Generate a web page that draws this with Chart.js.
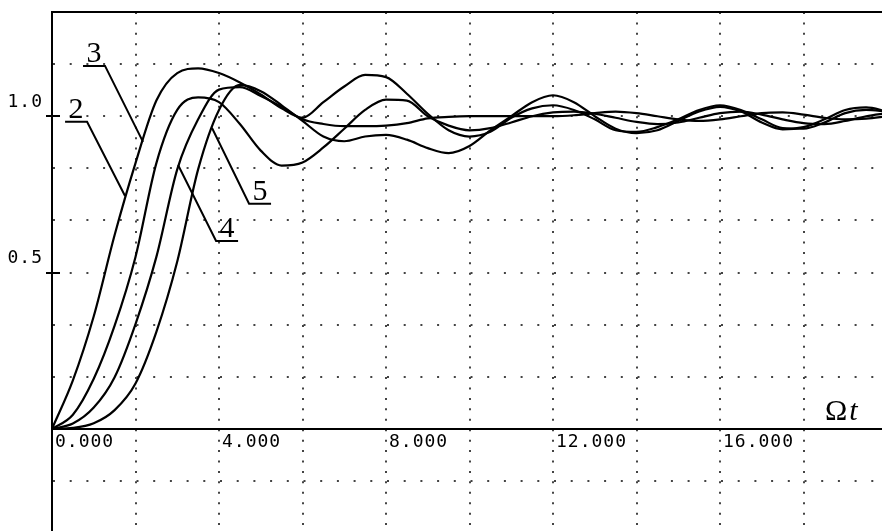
<!DOCTYPE html>
<html>
<head>
<meta charset="utf-8">
<script src="https://cdn.jsdelivr.net/npm/chart.js@4.4.1/dist/chart.umd.min.js"></script>
<style>
    html, body { margin: 0; padding: 0; background: #fff; }
    #wrap { width: 882px; height: 531px; }
</style>
</head>
<body>
<div id="wrap"><canvas id="grafico" width="882" height="531"></canvas></div>
<script>
// ---- dados (Ωt, resposta) ----
const xs = [0, 0.5, 1, 1.5, 2, 2.5, 3, 3.5, 4, 4.5,
            5, 5.5, 6, 6.5, 7, 7.5, 8, 8.5, 9, 9.5,
            10, 10.5, 11, 11.5, 12, 12.5, 13, 13.5, 14, 14.5,
            15, 15.5, 16, 16.5, 17, 17.5, 18, 18.5, 19, 19.5, 20];

// curva mais rápida (maior sobressinal)
const curve1 = [0, 0.155, 0.36, 0.62, 0.85, 1.05, 1.138, 1.153, 1.138, 1.108,
                1.07, 1.025, 0.995, 1.045, 1.095, 1.132, 1.125, 1.072, 1.008, 0.955,
                0.935, 0.95, 0.995, 1.025, 1.035, 1.02, 0.99, 0.955, 0.95, 0.965,
                0.99, 1.02, 1.035, 1.02, 0.99, 0.962, 0.96, 0.98, 1.01, 1.02, 1.015];
// segunda curva (vale profundo em ~5.7)
const curve2 = [0, 0.045, 0.16, 0.33, 0.55, 0.85, 1.02, 1.06, 1.045, 0.975,
                0.89, 0.842, 0.852, 0.9, 0.96, 1.02, 1.053, 1.05, 1.0, 0.97,
                0.955, 0.962, 0.98, 1.0, 1.012, 1.015, 1.008, 0.995, 0.982, 0.975,
                0.98, 0.995, 1.01, 1.015, 1.005, 0.99, 0.978, 0.975, 0.985, 1.0, 1.01];
// terceira curva (assenta em 1.0)
const curve3 = [0, 0.017, 0.068, 0.165, 0.335, 0.55, 0.83, 0.99, 1.085, 1.093,
                1.065, 1.03, 0.99, 0.975, 0.968, 0.968, 0.97, 0.978, 0.993, 0.998,
                1.0, 1.0, 1.0, 1.0, 1.0, 1.003, 1.01, 1.015, 1.01, 1.0,
                0.99, 0.985, 0.99, 1.0, 1.01, 1.012, 1.005, 0.995, 0.99, 0.992, 1.0];
// quarta curva (mais lenta)
const curve4 = [0, 0.003, 0.018, 0.06, 0.145, 0.31, 0.535, 0.83, 1.02, 1.1,
                1.08, 1.035, 0.985, 0.935, 0.92, 0.935, 0.94, 0.925, 0.898, 0.882,
                0.905, 0.955, 1.0, 1.045, 1.067, 1.045, 1.0, 0.96, 0.946, 0.955,
                0.985, 1.015, 1.03, 1.015, 0.98, 0.958, 0.965, 0.99, 1.02, 1.028, 1.015];

// grade e rótulos dos eixos
const xGrid = [0, 2, 4, 6, 8, 10, 12, 14, 16, 18];
const xTickValues = [0, 4, 8, 12, 16];
const xTickLabels = ['0.000', '4.000', '8.000', '12.000', '16.000'];
const yGrid = [-1/6, 0, 1/6, 2/6, 3/6, 4/6, 5/6, 1, 7/6, 8/6];
const yTickValues = [0.5, 1.0];
const yTickLabels = ['0.5', '1.0'];

// números das curvas com linha de chamada (ponta do sublinhado -> ponto na curva)
const curveLabels = ['3', '2', '4', '5'];
const labelAnchorX = [1.27, 0.84, 3.93, 4.72];
const labelAnchorY = [1.161, 0.982, 0.601, 0.72];
const labelTargetX = [2.18, 1.75, 3.02, 3.83];
const labelTargetY = [0.918, 0.745, 0.844, 0.963];

const pts = arr => xs.map((x, i) => ({ x: x, y: arr[i] }));
const findLabel = (values, labels, v) => {
    const i = values.findIndex(t => Math.abs(t - v) < 1e-6);
    return i >= 0 ? labels[i] : '';
};

const tickFont = { family: '"DejaVu Sans Mono", monospace', size: 18 };

// zera as folgas que o Chart.js reserva para os rótulos
const semFolga = s => {
    s.paddingTop = 0;
    s.paddingBottom = 0;
    s.paddingLeft = 0;
    s.paddingRight = 0;
};

// ============================
// PLUGIN: moldura, marcas, Ωt e números das curvas
// ============================
const overlay = {
    id: 'overlay',
    beforeDraw(chart) {
        chart.ctx.letterSpacing = '1px';
    },
    afterDraw(chart) {
        const { ctx, chartArea, scales: { x, y } } = chart;
        ctx.save();
        ctx.letterSpacing = '0px';
        ctx.strokeStyle = '#000';
        ctx.fillStyle = '#000';
        ctx.lineWidth = 2;

        // linha superior da moldura
        ctx.beginPath();
        ctx.moveTo(chartArea.left, chartArea.top);
        ctx.lineTo(chartArea.right, chartArea.top);
        ctx.stroke();

        // marcas curtas em 0.5 e 1.0
        yTickValues.forEach(v => {
            const py = Math.round(y.getPixelForValue(v));
            ctx.beginPath();
            ctx.moveTo(chartArea.left - 6, py);
            ctx.lineTo(chartArea.left + 8, py);
            ctx.stroke();
        });

        // título do eixo: Ωt
        const ox = chartArea.right - 57;
        const oy = y.getPixelForValue(0) - 9;
        ctx.textAlign = 'left';
        ctx.textBaseline = 'alphabetic';
        ctx.font = '30px "Liberation Serif", serif';
        ctx.fillText('Ω', ox, oy);
        const w = ctx.measureText('Ω').width;
        ctx.font = 'italic 30px "Liberation Serif", serif';
        ctx.fillText('t', ox + w + 2, oy);

        // números das curvas
        ctx.font = '30px "Liberation Serif", serif';
        ctx.textAlign = 'center';
        curveLabels.forEach((txt, i) => {
            const ax = x.getPixelForValue(labelAnchorX[i]);
            const ay = y.getPixelForValue(labelAnchorY[i]);
            const tx = x.getPixelForValue(labelTargetX[i]);
            const ty = y.getPixelForValue(labelTargetY[i]);
            const dir = tx > ax ? -1 : 1;
            const ux = ax + dir * 22;
            ctx.beginPath();
            ctx.moveTo(ux, ay);
            ctx.lineTo(ax, ay);
            ctx.lineTo(tx, ty);
            ctx.stroke();
            ctx.fillText(txt, (ax + ux) / 2, ay - 4);
        });
        ctx.restore();
    }
};

const serie = (arr, nome) => ({
    label: nome,
    data: pts(arr),
    borderColor: '#000',
    borderWidth: 2.2,
    pointRadius: 0,
    cubicInterpolationMode: 'monotone'
});

new Chart(document.getElementById('grafico'), {
    type: 'line',
    data: {
        datasets: [
            serie(curve1, 'curva 1'),
            serie(curve2, 'curva 2'),
            serie(curve3, 'curva 3'),
            serie(curve4, 'curva 4')
        ]
    },
    options: {
        responsive: false,
        animation: false,
        devicePixelRatio: 1,
        layout: { padding: { top: 12, left: 0, right: 0, bottom: 0 } },
        plugins: {
            legend: { display: false },
            tooltip: { enabled: false }
        },
        scales: {
            x: {
                type: 'linear',
                position: { y: 0 },
                min: 0,
                max: 19.88,
                afterFit: s => { s.height = 0; semFolga(s); },
                afterBuildTicks: s => { s.ticks = xGrid.map(v => ({ value: v })); },
                grid: { color: '#444', lineWidth: 2, drawTicks: false },
                border: { display: true, color: '#000', width: 2, dash: [2, 8.43] },
                ticks: {
                    autoSkip: false,
                    maxRotation: 0,
                    align: 'start',
                    labelOffset: 3,
                    padding: 3,
                    color: '#000',
                    font: tickFont,
                    callback: v => findLabel(xTickValues, xTickLabels, v)
                }
            },
            y: {
                type: 'linear',
                position: 'left',
                min: -0.3267,
                max: 4 / 3,
                afterFit: s => { s.width = 52; semFolga(s); },
                afterBuildTicks: s => { s.ticks = yGrid.map(v => ({ value: v })); },
                grid: { color: '#444', lineWidth: 2, drawTicks: false },
                border: { display: true, color: '#000', width: 2, dash: [2, 14.7] },
                ticks: {
                    autoSkip: false,
                    padding: 9,
                    labelOffset: -14,
                    color: '#000',
                    font: tickFont,
                    callback: v => findLabel(yTickValues, yTickLabels, v)
                }
            }
        }
    },
    plugins: [overlay]
});
</script>
</body>
</html>
